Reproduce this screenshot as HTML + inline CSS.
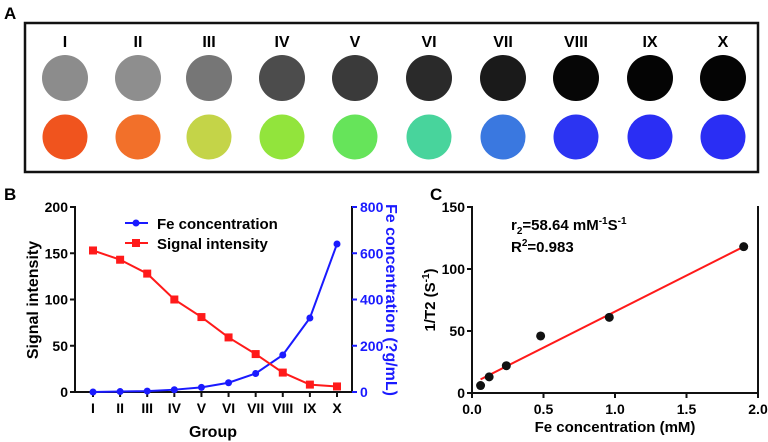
<!DOCTYPE html>
<html><head><meta charset="utf-8"><style>
body{margin:0;background:#fff;}
svg{display:block;font-family:"Liberation Sans",Arial,sans-serif;font-weight:bold;}
</style></head><body>
<svg id="fig" width="768" height="442" viewBox="0 0 768 442">
<text x="4" y="19" font-size="17">A</text>
<rect x="25" y="23" width="733" height="149" fill="none" stroke="#111" stroke-width="2.5"/>
<g id="phantoms"></g>
<text x="4" y="200" font-size="17">B</text>
<g id="chartB"></g>
<text x="430" y="200" font-size="17">C</text>
<g id="chartC"></g>
</svg>
<script>
const groups=["I","II","III","IV","V","VI","VII","VIII","IX","X"];
const signalValues=[153,143,128,100,81,59,41,21,8,6];
const feValues=[0,2,4,10,20,40,80,160,320,640];
const leftTicks=[0,50,100,150,200];
const rightTicks=[0,200,400,600,800];
const grayShades=["#8c8c8c","#8e8e8e","#767676","#4c4c4c","#3a3a3a","#2a2a2a","#1a1a1a","#060606","#040404","#040404"];
const mapColors=["#f0541e","#f2702a","#c4d448","#92e43c","#66e45a","#48d49c","#3a78e0","#2c34f2","#2a2ef4","#2a2ef4"];
const cX=[0.06,0.12,0.24,0.48,0.96,1.9];
const cY=[6,13,22,46,61,118];
const fitLine=[[0.06,11],[1.9,118]];
const cXTicks=[0.0,0.5,1.0,1.5,2.0];
const cYTicks=[0,50,100,150];
const NS="http://www.w3.org/2000/svg";
function mk(parent,tag,attrs,text){const e=document.createElementNS(NS,tag);for(const k in attrs)e.setAttribute(k,attrs[k]);if(text!==undefined)e.textContent=text;parent.appendChild(e);return e;}

// Panel A
const ph=document.getElementById('phantoms');
const pcx=[65,138,209,282,355,429,503,576,650,723];
groups.forEach((g,i)=>{
 const t=mk(ph,'text',{x:pcx[i],y:47,'font-size':16,'text-anchor':'middle'},g);
 
 
 const c1=mk(ph,'circle',{cx:pcx[i],cy:78,r:23,fill:grayShades[i]});
 
 
 const c2=mk(ph,'circle',{cx:pcx[i],cy:137,r:22.5,fill:mapColors[i]});
 
 
});

// Panel B
const B=document.getElementById('chartB');
const bx0=75,bx1=352,by0=392,by1=207;
const bxs=i=>93+i*(337-93)/9;
const bys=v=>by0-(v/200)*(by0-by1);
const bys2=v=>by0-(v/800)*(by0-by1);
mk(B,'path',{d:`M${bx0},${by1-1}V${by0}H${bx1}V${by1-1}`,fill:'none',stroke:'#111','stroke-width':2});
leftTicks.forEach(v=>{const y=bys(v);mk(B,'line',{x1:bx0-5,x2:bx0,y1:y,y2:y,stroke:'#111','stroke-width':2});
 const t=mk(B,'text',{x:bx0-7,y:y+5,'font-size':14,'text-anchor':'end'},v);});
rightTicks.forEach(v=>{const y=bys2(v);mk(B,'line',{x1:bx1,x2:bx1+5,y1:y,y2:y,stroke:'#1a1aff','stroke-width':2});
 const t=mk(B,'text',{x:bx1+8,y:y+5,'font-size':14,fill:'#1a1aff'},v);});
groups.forEach((g,i)=>{const x=bxs(i);mk(B,'line',{x1:x,x2:x,y1:by0,y2:by0+5,stroke:'#111','stroke-width':2});
 const t=mk(B,'text',{x:x,y:by0+21,'font-size':14,'text-anchor':'middle'},g);});
const gt=mk(B,'text',{x:213,y:437,'font-size':16,'text-anchor':'middle'},'Group');
const yt=mk(B,'text',{x:0,y:0,'font-size':16,'text-anchor':'middle',transform:`translate(38,300) rotate(-90)`},'Signal intensity');
const yt2=mk(B,'text',{x:0,y:0,'font-size':16,'text-anchor':'middle',fill:'#1a1aff',transform:`translate(386,300) rotate(90)`},'Fe concentration (?g/mL)');
const feL=mk(B,'polyline',{points:feValues.map((v,i)=>bxs(i)+','+bys2(v)).join(' '),fill:'none',stroke:'#1a1aff','stroke-width':2});

feValues.forEach((v,i)=>{const c=mk(B,'circle',{cx:bxs(i),cy:bys2(v),r:3.5,fill:'#1a1aff'});});
const sL=mk(B,'polyline',{points:signalValues.map((v,i)=>bxs(i)+','+bys(v)).join(' '),fill:'none',stroke:'#ff1a1a','stroke-width':2});

signalValues.forEach((v,i)=>{const r=mk(B,'rect',{x:bxs(i)-4,y:bys(v)-4,width:8,height:8,fill:'#ff1a1a'});});
// legend
const lg=mk(B,'g',{});
mk(lg,'line',{x1:125,x2:148,y1:223,y2:223,stroke:'#1a1aff','stroke-width':2});mk(lg,'circle',{cx:136,cy:223,r:3.5,fill:'#1a1aff'});
mk(lg,'text',{x:157,y:229,'font-size':15},'Fe concentration');
mk(lg,'line',{x1:125,x2:148,y1:243,y2:243,stroke:'#ff1a1a','stroke-width':2});mk(lg,'rect',{x:132,y:239,width:8,height:8,fill:'#ff1a1a'});
mk(lg,'text',{x:157,y:249,'font-size':15},'Signal intensity');

// Panel C
const C=document.getElementById('chartC');
const cx0=472,cx1=758,cy0=393,cy1=207;
const cxs=v=>cx0+(v/2)*(cx1-cx0);
const cys=v=>cy0-(v/150)*(cy0-cy1);
mk(C,'path',{d:`M${cx0},${cy1-1}V${cy0}H${cx1}V${cy1-1}`,fill:'none',stroke:'#111','stroke-width':2});
cYTicks.forEach(v=>{const y=cys(v);mk(C,'line',{x1:cx0-5,x2:cx0,y1:y,y2:y,stroke:'#111','stroke-width':2});
 const t=mk(C,'text',{x:cx0-7,y:y+5,'font-size':14,'text-anchor':'end'},v);});
cXTicks.forEach(v=>{const x=cxs(v);mk(C,'line',{x1:x,x2:x,y1:cy0,y2:cy0+5,stroke:'#111','stroke-width':2});
 const t=mk(C,'text',{x:x,y:cy0+21,'font-size':14,'text-anchor':'middle'},v.toFixed(1));});
const ct=mk(C,'text',{x:615,y:432,'font-size':15,'text-anchor':'middle'},'Fe concentration (mM)');
const cyt=mk(C,'text',{x:0,y:0,'font-size':15,'text-anchor':'middle',transform:`translate(435,300) rotate(-90)`});
cyt.innerHTML='1/T2 (S<tspan dy="-6" font-size="10">-1</tspan><tspan dy="6">)</tspan>';

const fl=mk(C,'line',{x1:cxs(fitLine[0][0]),y1:cys(fitLine[0][1]),x2:cxs(fitLine[1][0]),y2:cys(fitLine[1][1]),stroke:'#ff1a1a','stroke-width':2});

cX.forEach((v,i)=>{const c=mk(C,'circle',{cx:cxs(v),cy:cys(cY[i]),r:4.5,fill:'#111'});});
const a1=mk(C,'text',{x:511,y:230,'font-size':15});
a1.innerHTML='r<tspan dy="4" font-size="10">2</tspan><tspan dy="-4">=58.64 mM</tspan><tspan dy="-6" font-size="10">-1</tspan><tspan dy="6">S</tspan><tspan dy="-6" font-size="10">-1</tspan>';

const a2=mk(C,'text',{x:511,y:252,'font-size':15});
a2.innerHTML='R<tspan dy="-6" font-size="10">2</tspan><tspan dy="6">=0.983</tspan>';

</script>
</body></html>
